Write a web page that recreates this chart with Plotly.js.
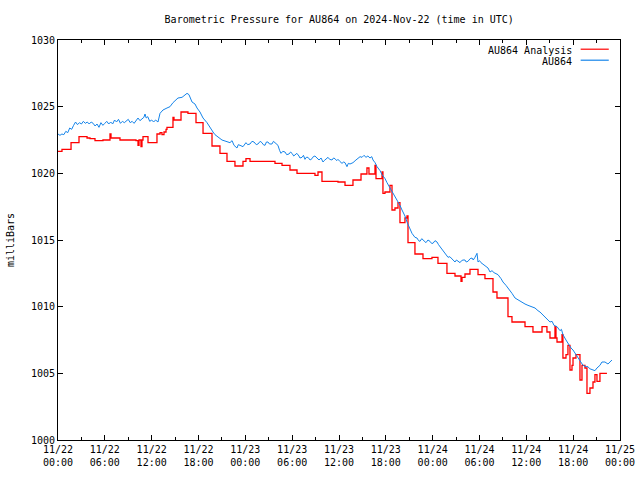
<!DOCTYPE html>
<html>
<head>
<meta charset="utf-8">
<script src="https://cdn.plot.ly/plotly-3.0.1.min.js"></script>
<style>html,body{margin:0;padding:0;background:#fff;}#chart{width:640px;height:480px;}</style>
</head>
<body>
<div id="chart"></div>
<script>
// Observed AU864 pressure: hours since 2024-11-22 00:00 UTC, millibars
const obsHours = [0,0.25,0.5,0.75,1.0,1.25,1.5,1.75,2.0,2.25,2.5,2.75,3.0,3.25,3.5,3.75,4.0,4.25,4.5,4.75,5.0,5.25,5.5,5.75,6.0,6.25,6.5,6.75,7.0,7.25,7.5,7.75,8.0,8.25,8.5,8.75,9.0,9.25,9.5,9.75,10.0,10.25,10.5,10.75,11.0,11.15,11.3,11.5,11.75,12.0,12.25,12.5,12.81,13.07,13.45,13.96,14.35,14.73,15.12,15.37,15.89,16.27,16.53,16.78,16.91,17.17,17.55,17.81,18.19,18.58,19.09,19.47,19.86,20.11,20.50,21.01,21.52,22.03,22.3,22.55,22.93,23.1,23.32,23.70,24.08,24.3,24.60,24.85,25.11,25.4,25.62,25.9,26.13,26.3,26.52,26.7,26.90,27.1,27.41,27.6,27.80,28.0,28.18,28.4,28.57,28.8,29.08,29.3,29.59,29.8,29.98,30.2,30.36,30.6,30.87,31.0,31.26,31.45,31.64,31.8,32.03,32.3,32.54,32.7,32.92,33.2,33.44,33.7,33.95,34.1,34.33,34.59,34.8,35.10,35.3,35.49,35.7,35.87,36.1,36.38,36.6,36.77,37.02,37.2,37.41,37.79,38.17,38.43,38.7,38.95,39.2,39.46,39.7,39.97,40.2,40.36,40.62,40.87,41.26,41.51,41.90,42.15,42.54,42.79,43.17,43.43,43.81,44.07,44.45,44.71,45.10,45.35,45.73,45.99,46.2,46.38,46.6,46.76,46.95,47.14,47.4,47.66,47.85,48.04,48.3,48.56,48.75,48.94,49.19,49.58,49.97,50.2,50.48,50.7,50.86,51.05,51.25,51.50,51.7,51.89,52.14,52.3,52.52,52.8,53.04,53.2,53.42,53.68,53.81,54.0,54.19,54.45,54.71,55.09,55.35,55.6,55.86,56.1,56.37,56.76,57.01,57.39,57.65,57.9,58.16,58.55,58.93,59.2,59.45,59.83,60.21,60.60,61.11,61.49,61.75,62.26,62.64,63.03,63.3,63.54,63.93,64.31,64.5,64.69,65.08,65.33,65.72,65.98,66.36,66.62,67.00,67.26,67.64,67.90,68.1,68.28,68.54,68.79,69.05,69.43,69.69,70.07,70.46,70.71,70.97];
const obsPressure = [1022.95,1022.85,1022.95,1022.9,1023.15,1023.05,1023.4,1023.3,1023.6,1023.85,1023.65,1023.8,1023.7,1023.9,1023.75,1023.85,1023.7,1023.85,1023.75,1023.55,1023.7,1023.45,1023.8,1023.6,1023.75,1023.9,1023.7,1023.85,1023.7,1024.0,1023.85,1024.05,1023.75,1023.9,1023.8,1023.95,1024.05,1023.8,1023.9,1023.75,1024.0,1024.15,1023.95,1024.1,1024.2,1024.45,1024.15,1024.25,1023.9,1024.0,1023.85,1024.0,1023.85,1024.5,1024.75,1024.9,1025.0,1025.3,1025.5,1025.65,1025.7,1025.85,1026.0,1025.9,1025.7,1025.35,1025.2,1024.9,1024.6,1024.15,1023.8,1023.4,1023.1,1022.9,1022.7,1022.5,1022.4,1022.3,1022.45,1022.1,1021.9,1022.15,1022.1,1022.0,1022.3,1022.15,1022.2,1022.4,1022.35,1022.15,1022.2,1022.4,1022.3,1022.15,1022.1,1022.35,1022.35,1022.2,1022.2,1022.4,1022.3,1022.15,1022.1,1021.7,1021.5,1021.65,1021.6,1021.4,1021.45,1021.6,1021.5,1021.3,1021.4,1021.5,1021.3,1021.15,1021.2,1021.35,1021.05,1021.2,1021.2,1021.0,1021.1,1021.25,1021.3,1021.1,1021.0,1021.15,1020.85,1020.95,1021.1,1021.2,1021.05,1021.0,1021.15,1021.1,1020.95,1021.05,1020.9,1020.75,1020.85,1020.8,1020.5,1020.75,1020.7,1020.8,1021.0,1021.1,1021.25,1021.2,1021.35,1021.2,1021.3,1021.15,1021.25,1021.0,1020.8,1020.5,1020.2,1019.9,1019.6,1019.3,1018.9,1018.6,1018.3,1018.0,1017.6,1017.25,1016.8,1016.35,1015.9,1015.5,1015.2,1015.15,1014.95,1014.9,1015.1,1015.0,1014.85,1014.8,1015.0,1014.9,1014.75,1014.75,1014.95,1014.85,1014.65,1014.5,1014.25,1014.0,1013.7,1013.75,1013.55,1013.45,1013.35,1013.5,1013.4,1013.3,1013.45,1013.5,1013.5,1013.35,1013.4,1013.6,1013.65,1013.5,1013.7,1014.0,1013.35,1013.45,1013.3,1013.2,1013.1,1012.9,1012.6,1012.7,1012.55,1012.45,1012.4,1012.1,1011.85,1011.6,1011.4,1011.25,1011.0,1010.65,1010.5,1010.4,1010.3,1010.2,1010.1,1010.0,1009.9,1009.7,1009.6,1009.3,1009.1,1008.85,1008.9,1008.6,1008.5,1008.2,1008.3,1007.9,1007.5,1007.25,1006.9,1006.75,1006.4,1006.15,1005.8,1005.6,1005.5,1005.5,1005.35,1005.3,1005.25,1005.2,1005.4,1005.6,1005.85,1005.85,1005.7,1005.85,1006.0];

// Analysis pressure (step changes): hours, millibars
const anaHours = [0,0.51,1.67,2.69,3.72,4.10,4.74,5.76,6.66,6.79,7.94,9.99,10.25,10.38,10.63,10.76,10.89,11.53,12.68,13.07,13.32,13.58,13.84,13.96,14.73,14.86,15.76,16.65,17.68,18.58,19.73,20.75,21.65,22.67,23.70,24.08,24.60,27.80,28.70,29.72,30.62,32.92,33.31,33.82,35.87,36.77,37.79,38.82,39.58,39.84,40.61,40.74,41.51,41.63,41.89,42.53,42.79,43.17,43.56,43.81,44.45,44.71,44.84,45.73,46.76,47.91,48.68,49.83,50.86,51.63,51.76,52.14,52.78,53.81,54.70,55.73,56.24,57.65,58.16,59.83,60.85,62.01,62.64,63.03,63.67,63.80,63.93,64.57,64.69,65.08,65.33,65.59,65.85,65.98,66.36,66.87,67.13,67.51,67.77,68.15,68.54,68.79,69.05,69.43,70.33];
const anaPressure = [1021.65,1021.8,1022.3,1022.75,1022.65,1022.6,1022.45,1022.5,1022.95,1022.65,1022.5,1022.45,1022.1,1022.5,1022.0,1022.5,1022.75,1022.3,1022.95,1023.05,1022.9,1023.1,1023.3,1023.45,1024.2,1024.0,1024.6,1024.5,1023.8,1023.0,1022.05,1021.5,1020.9,1020.55,1020.9,1021.1,1020.9,1020.75,1020.6,1020.25,1020.0,1019.85,1020.1,1019.4,1019.35,1019.1,1019.5,1019.95,1020.4,1019.95,1020.6,1019.6,1020.1,1018.5,1018.6,1019.1,1017.25,1017.4,1017.8,1016.3,1016.65,1016.8,1014.8,1013.95,1013.6,1013.7,1013.25,1012.5,1012.3,1011.9,1012.2,1012.45,1012.8,1012.4,1012.1,1011.1,1010.65,1009.25,1008.85,1008.5,1008.1,1008.5,1008.1,1007.65,1008.5,1007.65,1007.35,1007.9,1006.15,1006.4,1007.1,1005.25,1005.6,1006.15,1006.4,1004.5,1005.6,1005.4,1003.5,1003.9,1004.35,1004.9,1004.4,1005.0,1005.0];

const xTickVals = [0,6,12,18,24,30,36,42,48,54,60,66,72];
const xTickText = ["11/22<br>00:00","11/22<br>06:00","11/22<br>12:00","11/22<br>18:00","11/23<br>00:00","11/23<br>06:00","11/23<br>12:00","11/23<br>18:00","11/24<br>00:00","11/24<br>06:00","11/24<br>12:00","11/24<br>18:00","11/25<br>00:00"];
const yTickVals = [1000,1005,1010,1015,1020,1025,1030];

const seriesNames = ["AU864 Analysis", "AU864"];
const seriesColors = ["#ff0000", "#1584ea"];

const font = {family: "DejaVu Sans Mono, monospace", size: 10, color: "#000"};

const traces = [
  {x: anaHours, y: anaPressure, mode: "lines", line: {color: seriesColors[0], width: 1.3, shape: "hv"}, name: seriesNames[0], showlegend: false},
  {x: obsHours, y: obsPressure, mode: "lines", line: {color: seriesColors[1], width: 1}, name: seriesNames[1], showlegend: false}
];

const layout = {
  width: 640, height: 480,
  margin: {l: 58, r: 20, t: 40, b: 40},
  paper_bgcolor: "#fff", plot_bgcolor: "#fff",
  font: font,
  title: {text: "Barometric Pressure for AU864 on 2024-Nov-22 (time in UTC)", font: font, x: 0.53, xanchor: "center", y: 0.96, yanchor: "middle"},
  xaxis: {
    range: [0, 72], tickvals: xTickVals, ticktext: xTickText,
    ticks: "inside", ticklen: 5, tickcolor: "#000", tickwidth: 1,
    showline: true, linecolor: "#000", linewidth: 1, mirror: "ticks",
    showgrid: false, zeroline: false, tickfont: font,
    minor: {dtick: 3, tick0: 0, ticks: "inside", ticklen: 3, tickcolor: "#000", showgrid: false}
  },
  yaxis: {
    range: [1000, 1030], tickvals: yTickVals,
    ticks: "inside", ticklen: 5, tickcolor: "#000", tickwidth: 1,
    showline: true, linecolor: "#000", linewidth: 1, mirror: "ticks",
    showgrid: false, zeroline: false, tickfont: font,
    title: {text: "milliBars", font: font, standoff: 14}
  },
  annotations: [
    {xref: "paper", yref: "paper", x: 0.918, y: 0.975, xanchor: "right", yanchor: "middle", text: seriesNames[0], showarrow: false, font: font},
    {xref: "paper", yref: "paper", x: 0.918, y: 0.9475, xanchor: "right", yanchor: "middle", text: seriesNames[1], showarrow: false, font: font}
  ],
  shapes: [
    {type: "line", xref: "paper", yref: "paper", x0: 0.93, x1: 0.98, y0: 0.977, y1: 0.977, line: {color: seriesColors[0], width: 1.2}},
    {type: "line", xref: "paper", yref: "paper", x0: 0.93, x1: 0.98, y0: 0.9495, y1: 0.9495, line: {color: seriesColors[1], width: 1.2}}
  ],
  showlegend: false
};

Plotly.newPlot("chart", traces, layout, {displayModeBar: false, staticPlot: true});
</script>
</body>
</html>
